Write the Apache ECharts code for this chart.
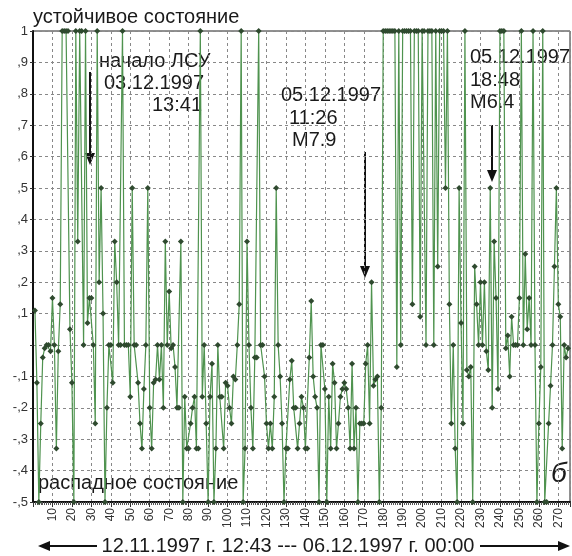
<!DOCTYPE html>
<html>
<head>
<meta charset="utf-8">
<script src="https://cdn.jsdelivr.net/npm/echarts@6/dist/echarts.min.js"></script>
<style>
  html, body { margin: 0; padding: 0; background: #fff; }
  #chart { width: 572px; height: 556px; }
</style>
</head>
<body>
<div id="chart"></div>
<script>
// отсчёты 1..275 (значения состояния)
const values = [
    0.11, -0.12, -0.5, -0.25, -0.04, -0.01, 0, 0, -0.02, 0.15,
    0, -0.33, -0.02, 0.13, 1, 1, 1, 1, 0.05, -0.12,
    -0.5, 1, 0.33, 1, 1, 0, 1, 0.07, 0.15, 0.15,
    0, -0.25, 1, 0.2, 0.5, 0.1, -0.5, -0.2, 0, 0,
    -0.12, 0.33, 0.2, 0, 0, 1, 0, 0, 0, -0.165,
    0.5, 0, 0, -0.12, -0.25, -0.33, -0.14, 0, 0.5, -0.2,
    -0.33, -0.12, -0.11, 0, -0.11, 0, -0.2, 0.33, 0, 0.17,
    -0.01, 0, -0.07, -0.2, -0.2, 0.33, -0.5, -0.165, -0.33, -0.33,
    -0.25, -0.2, -0.165, -0.33, -0.33, 1, -0.165, 0, -0.25, -0.5,
    -0.165, -0.06, -0.5, -0.33, 0, -0.165, -0.165, -0.33, -0.12, -0.13,
    -0.2, -0.25, -0.1, -0.11, 0, 0.13, 1, -0.5, -0.33, 0.33,
    0, -0.2, -0.33, -0.04, -0.04, 1, 0, 0, -0.1, -0.25,
    -0.33, -0.25, -0.33, -0.165, 0.5, 0, -0.1, -0.25, -0.5, -0.33,
    -0.33, -0.11, -0.05, -0.2, -0.2, -0.33, -0.25, -0.165, -0.2, -0.33,
    -0.33, -0.04, 0.14, -0.1, -0.165, -0.2, -0.5, 0, 0, -0.14,
    -0.5, -0.165, -0.33, -0.06, -0.12, -0.33, -0.25, -0.165, -0.14, -0.12,
    -0.14, -0.2, -0.33, -0.06, -0.33, -0.2, -0.5, -0.25, -0.25, -0.25,
    -0.06, 0, -0.25, 0.2, -0.13, -0.11, -0.1, -0.5, -0.2, 1,
    1, 1, 1, 1, 1, 1, -0.07, 1, 0, 1,
    1, 1, 1, 1, 0.13, 1, 1, 1, 0.09, 1,
    1, 0, 1, 1, 1, 0, 1, 0.25, 1, 1,
    1, 0.5, 1, 0.13, -0.25, 0, -0.33, -0.5, 0.5, 0.07,
    -0.25, 1, -0.08, -0.1, -0.07, -0.5, 0.25, 0.13, 0, 0.2,
    0, 0.2, -0.02, -0.08, 0.5, -0.2, 0.33, 0.15, -0.14, 1,
    1, 1, -0.01, 0.03, -0.1, 0.09, 0, 0, 0, 0.15,
    1, 0, 0.29, 0.05, 0.15, 0, 1, 0, -0.5, -0.25,
    -0.07, 1, -0.5, -0.5, -0.25, -0.13, 0, 0.25, 0.5, 0.13,
    0.09, -0.33, 0, -0.04, -0.01
];
const xTicks = [10, 20, 30, 40, 50, 60, 70, 80, 90, 100, 110, 120, 130, 140,
    150, 160, 170, 180, 190, 200, 210, 220, 230, 240, 250, 260, 270];

const seriesData = values.map(function (v, i) { return [i + 1, v]; });

const FONT = '"Liberation Sans", Arial, sans-serif';

function yLabel(v) {
    if (Math.abs(v) < 1e-6) return '';
    if (Math.abs(v - 1) < 1e-6) return '1';
    let s = (Math.round(v * 10) / 10).toFixed(1);
    return s.replace('0.', ',');
}

function arrowDown(x, y1, y2) {
    return [{
        type: 'line',
        shape: { x1: x, y1: y1, x2: x, y2: y2 - 10 },
        style: { stroke: '#111', lineWidth: 2 }
    }, {
        type: 'polygon',
        shape: { points: [[x - 5, y2 - 12], [x + 5, y2 - 12], [x, y2]] },
        style: { fill: '#111' }
    }];
}

function txt(x, y, s, size) {
    return {
        type: 'text',
        x: x,
        y: y,
        style: {
            text: s,
            font: (size || 20) + 'px ' + FONT,
            fill: '#1a1a1a',
            textVerticalAlign: 'middle'
        }
    };
}

let chart = echarts.init(document.getElementById('chart'));
let option = {
    animation: false,
    grid: {
        left: 33,
        right: 2,
        top: 31,
        bottom: 54,
        show: true,
        borderColor: '#222',
        borderWidth: 1
    },
    xAxis: {
        type: 'value',
        min: 0,
        max: 276,
        interval: 10,
        axisLine: { show: true, onZero: false, lineStyle: { color: '#111', width: 2 } },
        axisTick: { show: true, length: 5, lineStyle: { color: '#333' } },
        minorTick: { show: true, splitNumber: 10, length: 3, lineStyle: { color: '#555' } },
        splitLine: { show: true, lineStyle: { color: '#888', type: [3, 3], width: 1 } },
        axisLabel: {
            rotate: 90,
            fontSize: 12,
            fontFamily: FONT,
            color: '#333',
            margin: 6,
            formatter: function (v) {
                return xTicks.indexOf(v) >= 0 ? String(v) : '';
            }
        }
    },
    yAxis: {
        type: 'value',
        min: -0.5,
        max: 1,
        interval: 0.1,
        axisLine: { show: true, lineStyle: { color: '#111', width: 2 } },
        axisTick: { show: true, length: 3, lineStyle: { color: '#333' } },
        splitLine: { show: true, lineStyle: { color: '#888', type: [3, 3], width: 1 } },
        axisLabel: {
            fontSize: 13,
            fontFamily: FONT,
            color: '#333',
            margin: 5,
            formatter: yLabel
        }
    },
    series: [{
        type: 'line',
        data: seriesData,
        symbol: 'diamond',
        symbolSize: 6,
        showAllSymbol: true,
        clip: false,
        lineStyle: { color: '#4f934f', width: 1.2 },
        itemStyle: { color: '#2f4a2f' }
    }],
    graphic: [].concat(
        [
            txt(33, 17, 'устойчивое состояние'),
            txt(38, 483, 'распадное состояние'),
            txt(99, 61, 'начало ЛСУ'),
            txt(104, 83, '03.12.1997'),
            txt(152, 105, '13:41'),
            txt(281, 95, '05.12.1997'),
            txt(289, 118, '11:26'),
            txt(292, 140, 'M7.9'),
            txt(470, 57, '05.12.1997'),
            txt(470, 80, '18:48'),
            txt(470, 102, 'M6.4'),
            {
                type: 'text', x: 551, y: 474,
                style: { text: 'б', font: 'italic 28px ' + FONT, fill: '#1a1a1a', textVerticalAlign: 'middle' }
            },
            {
                type: 'text', x: 288, y: 546,
                style: {
                    text: '12.11.1997 г. 12:43 --- 06.12.1997 г. 00:00',
                    font: '20px ' + FONT, fill: '#1a1a1a',
                    textAlign: 'center', textVerticalAlign: 'middle'
                }
            },
            // стрелки внизу
            { type: 'line', shape: { x1: 48, y1: 546, x2: 97, y2: 546 }, style: { stroke: '#111', lineWidth: 2 } },
            { type: 'polygon', shape: { points: [[38, 546], [50, 541], [50, 551]] }, style: { fill: '#111' } },
            { type: 'line', shape: { x1: 480, y1: 546, x2: 560, y2: 546 }, style: { stroke: '#111', lineWidth: 2 } },
            { type: 'polygon', shape: { points: [[570, 546], [558, 541], [558, 551]] }, style: { fill: '#111' } }
        ],
        arrowDown(90, 72, 165),
        arrowDown(365, 152, 278),
        arrowDown(492, 125, 182)
    )
};
chart.setOption(option);

window.addEventListener('resize', function () {
    chart.resize();
});
</script>
</body>
</html>
